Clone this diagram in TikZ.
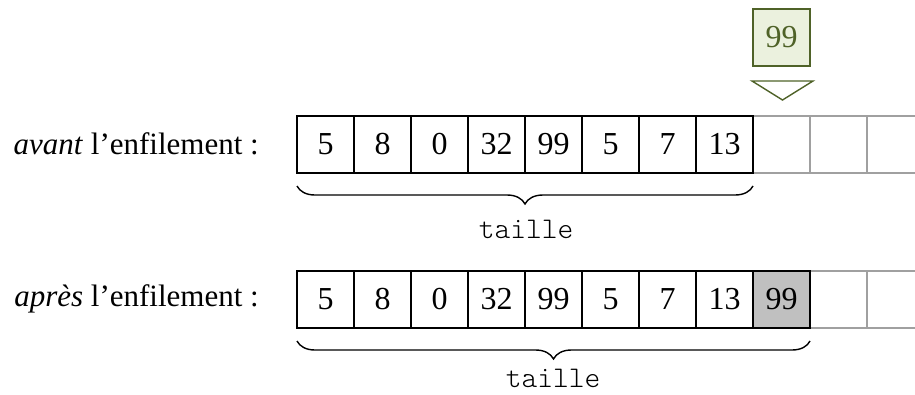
\documentclass[tikz,border=0pt]{standalone}
\usepackage{fontspec}
\setmainfont{Liberation Serif}
\setmonofont{Latin Modern Mono Light}
\usetikzlibrary{decorations.pathreplacing}
\definecolor{olivedark}{HTML}{4F6228}
\definecolor{olivelight}{HTML}{EBF1DE}
\definecolor{cellgrey}{HTML}{C0C0C0}
\definecolor{linegrey}{HTML}{A0A0A0}
\tikzset{
  cell/.style={draw=black, line width=1.4pt, minimum width=57pt, minimum height=57pt, inner sep=0pt, outer sep=0pt, anchor=north west, font=\fontsize{32}{36}\selectfont},
  emptycell/.style={draw=linegrey, line width=1.4pt, minimum width=57pt, minimum height=57pt, inner sep=0pt, outer sep=0pt, anchor=north west},
  newcell/.style={cell, fill=cellgrey},
  rowlabel/.style={anchor=east, inner sep=0pt, font=\fontsize{31}{36}\selectfont},
  sizelabel/.style={anchor=base, inner sep=0pt, font=\ttfamily\fontsize{30}{32}\selectfont},
  sizebrace/.style={decorate, decoration={brace, mirror, amplitude=18pt, raise=13pt}, line width=1.4pt},
  incoming/.style={draw=olivedark, fill=olivelight, line width=1.4pt, minimum width=57pt, minimum height=57pt, inner sep=0pt, outer sep=0pt, anchor=north west, text=olivedark, font=\fontsize{32}{36}\selectfont},
  pointer/.style={draw=olivedark, line width=1.4pt, line join=miter},
  openline/.style={draw=linegrey, line width=1.4pt}
}
\begin{document}
\begin{tikzpicture}[x=1pt, y=-1pt]
\useasboundingbox (0,0) rectangle (915,394);
\coordinate (edge) at (916,0);
% free cells (drawn first, so the black cells lie above them)
\node[emptycell] (a9) at (753,116) {};
\node[emptycell] (a10) at (810,116) {};
\draw[openline] (a10.north east) -- (a10.north east -| edge) (a10.south east) -- (a10.south east -| edge);
\node[emptycell] (b10) at (810,271) {};
\draw[openline] (b10.north east) -- (b10.north east -| edge) (b10.south east) -- (b10.south east -| edge);
% top row (before)
\foreach \v [count=\i] in {5,8,0,32,99,5,7,13} {
  \node[cell] (a\i) at ({297+57*(\i-1)},116) {\v};
}
% bottom row (after)
\foreach \v [count=\i] in {5,8,0,32,99,5,7,13} {
  \node[cell] (b\i) at ({297+57*(\i-1)},271) {\v};
}
\node[newcell] (b9) at (753,271) {99};
% labels
\node[rowlabel] (la) at (259,144) {\textit{avant} l’enfilement :};
\node[rowlabel] (lb) at (259,299) {\textit{après} l’enfilement :};
% braces
\draw[sizebrace] (a1.south west) -- (a8.south east);
\node[sizelabel] (ta) at (526,238) {taille};
\draw[sizebrace] (b1.south west) -- (b9.south east);
\node[sizelabel] (tb) at (553,387.5) {taille};
% incoming element
\node[incoming] (inc) at (753,9) {99};
\coordinate (tl) at (752,81);
\coordinate (tr) at (813,81);
\coordinate (tp) at (782.5,100);
\draw[pointer] (tl) -- (tr) -- (tp) -- cycle;
\end{tikzpicture}
\end{document}
